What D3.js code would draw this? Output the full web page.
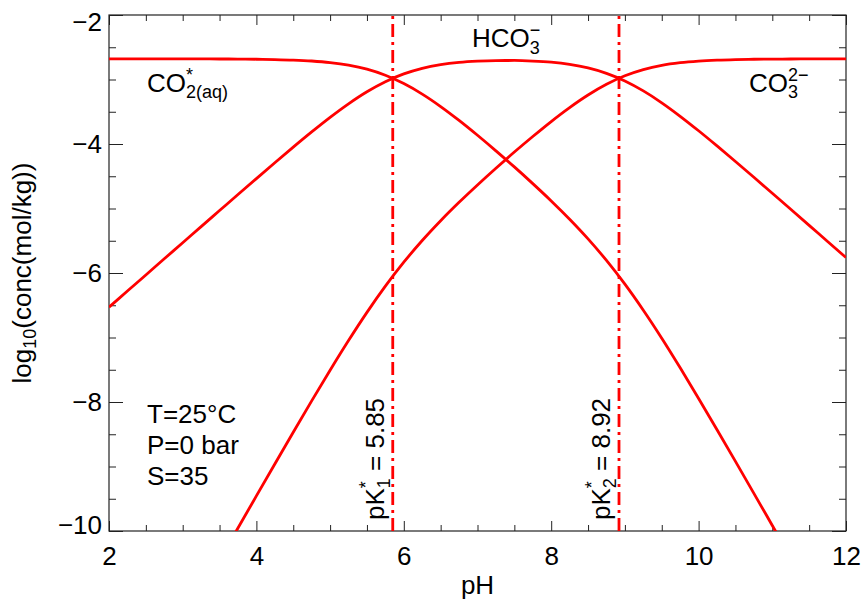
<!DOCTYPE html>
<html>
<head>
<meta charset="utf-8">
<script src="https://cdn.jsdelivr.net/npm/d3@7"></script>
<style>
  body { margin: 0; background: #fff; }
  text { font-family: "Liberation Sans", Arial, sans-serif; fill: #000; }
</style>
</head>
<body>
<div id="chart"></div>
<script>
// pH grid and log10 concentrations (mol/kg)
var pH = [2, 2.25, 2.5, 2.75, 3, 3.25, 3.5, 3.75, 4, 4.25, 4.5, 4.75, 5, 5.25, 5.5, 5.75,
  6, 6.25, 6.5, 6.75, 7, 7.25, 7.5, 7.75, 8, 8.25, 8.5, 8.75, 9, 9.25, 9.5, 9.75,
  10, 10.25, 10.5, 10.75, 11, 11.25, 11.5, 11.75, 12];
var co2 = [-2.680, -2.680, -2.680, -2.680, -2.681, -2.681, -2.682, -2.683, -2.686, -2.691, -2.699,
  -2.713, -2.737, -2.777, -2.840, -2.934, -3.063, -3.226, -3.419, -3.634, -3.865, -4.106, -4.355,
  -4.614, -4.882, -5.166, -5.471, -5.805, -6.173, -6.577, -7.011, -7.470, -7.945, -8.430, -8.921,
  -9.416, -9.914, -10.412, -10.911, -11.411, -11.910];
var hco3 = [-6.530, -6.280, -6.030, -5.780, -5.531, -5.281, -5.032, -4.783, -4.536, -4.291, -4.049,
  -3.813, -3.587, -3.377, -3.190, -3.034, -2.913, -2.826, -2.769, -2.734, -2.715, -2.706, -2.705,
  -2.714, -2.732, -2.766, -2.821, -2.905, -3.023, -3.177, -3.361, -3.570, -3.795, -4.030, -4.271,
  -4.516, -4.764, -5.012, -5.261, -5.511, -5.760];
var co3 = [-13.450, -12.950, -12.450, -11.950, -11.451, -10.951, -10.452, -9.953, -9.456, -8.961,
  -8.469, -7.983, -7.507, -7.047, -6.610, -6.204, -5.833, -5.496, -5.189, -4.904, -4.635, -4.376,
  -4.125, -3.884, -3.652, -3.436, -3.241, -3.075, -2.943, -2.847, -2.781, -2.740, -2.715, -2.700,
  -2.691, -2.686, -2.684, -2.682, -2.681, -2.681, -2.680];
var pK = [5.85, 8.92];
var pKnames = ["1", "2"];
var xMajor = [2, 4, 6, 8, 10, 12];
var yMajor = [-10, -8, -6, -4, -2];

var margin = {top: 15, right: 18, bottom: 70, left: 109},
    width = 864 - margin.left - margin.right,
    height = 601 - margin.top - margin.bottom;

var svg = d3.select("#chart")
  .append("svg")
    .attr("width", 864)
    .attr("height", 601)
  .append("g")
    .attr("transform", "translate(" + margin.left + "," + margin.top + ")");

var x = d3.scaleLinear().domain([2, 12]).range([0, width]);
var y = d3.scaleLinear().domain([-10, -2]).range([height, 0]);

var xMinor = d3.range(2, 12.01, 0.5).filter(function(d) { return d % 2 != 0; });
var yMinor = d3.range(-10, -1.99, 0.5).filter(function(d) { return d % 2 != 0; });

function styleAxis(g) {
  g.select(".domain").remove();
  g.selectAll("line").attr("stroke", "#222").attr("stroke-width", 1);
  g.selectAll("text").attr("font-size", 26).attr("fill", "#000")
    .style("font-family", "'Liberation Sans', Arial, sans-serif");
}

// ticks point inward on all four sides
svg.append("g").attr("transform", "translate(0," + height + ")")
  .call(d3.axisBottom(x).tickValues(xMajor).tickSizeInner(-10).tickSizeOuter(0)
    .tickPadding(16).tickFormat(d3.format("d")))
  .call(styleAxis);
svg.append("g").attr("transform", "translate(0," + height + ")")
  .call(d3.axisBottom(x).tickValues(xMinor).tickSizeInner(-6).tickSizeOuter(0).tickFormat(""))
  .call(styleAxis);
svg.append("g")
  .call(d3.axisTop(x).tickValues(xMajor).tickSizeInner(-10).tickSizeOuter(0).tickFormat(""))
  .call(styleAxis);
svg.append("g")
  .call(d3.axisTop(x).tickValues(xMinor).tickSizeInner(-6).tickSizeOuter(0).tickFormat(""))
  .call(styleAxis);

var yAxis = svg.append("g")
  .call(d3.axisLeft(y).tickValues(yMajor).tickSizeInner(-14).tickSizeOuter(0)
    .tickPadding(7).tickFormat(d3.format("d")))
  .call(styleAxis);
// end labels are pulled inside the axis range
yAxis.selectAll(".tick text").attr("transform", function(d) {
  return d == -2 ? "translate(0,7)" : d == -10 ? "translate(0,-6)" : null;
});
svg.append("g")
  .call(d3.axisLeft(y).tickValues(yMinor).tickSizeInner(-7).tickSizeOuter(0).tickFormat(""))
  .call(styleAxis);
svg.append("g").attr("transform", "translate(" + width + ",0)")
  .call(d3.axisRight(y).tickValues(yMajor).tickSizeInner(-14).tickSizeOuter(0).tickFormat(""))
  .call(styleAxis);
svg.append("g").attr("transform", "translate(" + width + ",0)")
  .call(d3.axisRight(y).tickValues(yMinor).tickSizeInner(-7).tickSizeOuter(0).tickFormat(""))
  .call(styleAxis);

// frame
svg.append("rect")
  .attr("width", width).attr("height", height)
  .attr("fill", "none").attr("stroke", "#222").attr("stroke-width", 1.2);

svg.append("clipPath").attr("id", "clip")
  .append("rect").attr("width", width).attr("height", height);

var line = d3.line()
  .x(function(d) { return x(d[0]); })
  .y(function(d) { return y(d[1]); })
  .curve(d3.curveMonotoneX);

[co2, hco3, co3].forEach(function(s) {
  svg.append("path")
    .datum(pH.map(function(p, i) { return [p, s[i]]; }))
    .attr("clip-path", "url(#clip)")
    .attr("fill", "none")
    .attr("stroke", "#ff0000")
    .attr("stroke-width", 2.8)
    .attr("d", line);
});

// pK lines
svg.selectAll(".pk")
  .data(pK)
  .enter()
  .append("line")
    .attr("x1", function(d) { return x(d); })
    .attr("x2", function(d) { return x(d); })
    .attr("y1", y(-10))
    .attr("y2", y(-2))
    .attr("stroke", "#ff0000")
    .attr("stroke-width", 2.8)
    .attr("stroke-dasharray", "13,5,3,5");

pK.forEach(function(k, i) {
  var t = svg.append("text")
    .attr("transform", "translate(" + (x(k) - 9) + "," + (height - 11) + ") rotate(-90)")
    .attr("font-size", 26);
  t.append("tspan").text("pK");
  t.append("tspan").attr("font-size", 18).attr("dy", -12).text("*");
  t.append("tspan").attr("font-size", 18).attr("dx", -7).attr("dy", 18).text(pKnames[i]);
  t.append("tspan").attr("dy", -6).text(" = " + d3.format(".2f")(k));
});

// species labels
var t1 = svg.append("text").attr("x", 38).attr("y", 77).attr("font-size", 26);
t1.append("tspan").text("CO");
t1.append("tspan").attr("font-size", 18).attr("dy", -11).text("*");
t1.append("tspan").attr("font-size", 18).attr("dx", -7).attr("dy", 17).text("2(aq)");

var t2 = svg.append("text").attr("x", 363).attr("y", 32).attr("font-size", 26);
t2.append("tspan").text("HCO");
t2.append("tspan").attr("font-size", 18).attr("dy", 7).text("3");
t2.append("tspan").attr("font-size", 18).attr("dx", -10).attr("dy", -18).text("−");

var t3 = svg.append("text").attr("x", 640).attr("y", 77).attr("font-size", 26);
t3.append("tspan").text("CO");
t3.append("tspan").attr("font-size", 18).attr("dy", 6).text("3");
t3.append("tspan").attr("font-size", 18).attr("dx", -10).attr("dy", -17).text("2−");

// conditions
var cond = ["T=25°C", "P=0 bar", "S=35"];
svg.selectAll(".cond")
  .data(cond)
  .enter()
  .append("text")
    .attr("x", 38)
    .attr("y", function(d, i) { return 408 + i * 31; })
    .attr("font-size", 26)
    .text(function(d) { return d; });

// axis titles
svg.append("text")
  .attr("x", width / 2)
  .attr("y", 579)
  .attr("text-anchor", "middle")
  .attr("font-size", 26)
  .text("pH");

var yt = svg.append("text")
  .attr("transform", "translate(-78," + (height / 2) + ") rotate(-90)")
  .attr("text-anchor", "middle")
  .attr("font-size", 26);
yt.append("tspan").text("log");
yt.append("tspan").attr("font-size", 18).attr("dy", 5).text("10");
yt.append("tspan").attr("dy", -5).text("(conc(mol/kg))");
</script>
</body>
</html>
